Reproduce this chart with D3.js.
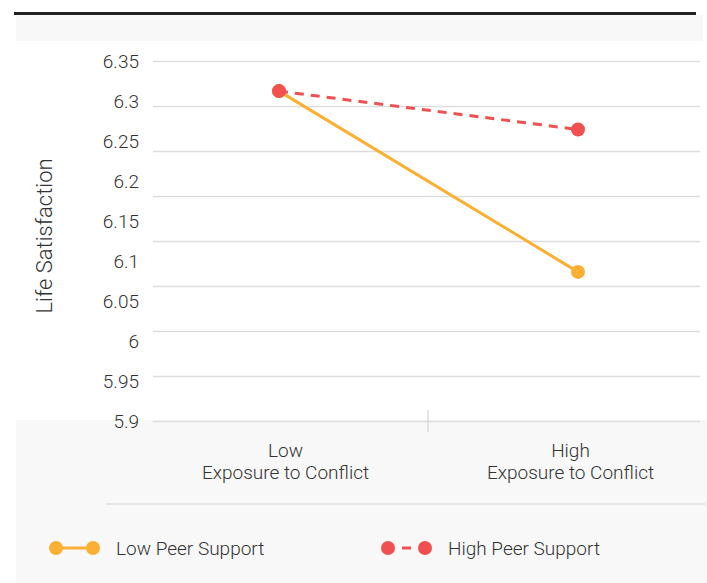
<!DOCTYPE html>
<html>
<head>
<meta charset="utf-8">
<script src="https://cdn.jsdelivr.net/npm/d3@7"></script>
<style>
  html, body { margin: 0; padding: 0; background: #ffffff; }
  svg { display: block; font-family: Roboto, "Liberation Sans", Arial, sans-serif; font-weight: 300; }
</style>
</head>
<body>
<div id="chart"></div>
<script>
// ---- data ----
const categories = ["Low", "High"];
const categorySubtitle = "Exposure to Conflict";
const lowPeerSupport = [6.313, 6.087];
const highPeerSupport = [6.313, 6.265];
const yTicks = [6.35, 6.3, 6.25, 6.2, 6.15, 6.1, 6.05, 6, 5.95, 5.9];
const yTickLabels = ["6.35", "6.3", "6.25", "6.2", "6.15", "6.1", "6.05", "6", "5.95", "5.9"];
const gridCount = 9;
const yTitle = "Life Satisfaction";
const seriesNames = ["Low Peer Support", "High Peer Support"];

const W = 707, H = 583;
const orange = "#fbb034";
const red = "#f05050";
const textColor = "#333333";

const svg = d3.select("#chart").append("svg").attr("width", W).attr("height", H);

// backgrounds
svg.append("rect").attr("x", 16).attr("y", 15).attr("width", 687).attr("height", 26).attr("fill", "#f8f8f8");
svg.append("rect").attr("x", 16).attr("y", 420).attr("width", 691).attr("height", 163).attr("fill", "#f8f8f8");
svg.append("rect").attr("x", 14).attr("y", 12).attr("width", 682).attr("height", 3).attr("fill", "#222222");

// scales
const y = d3.scaleLinear().domain([5.9, 6.35]).range([421.5, 61.5]);
const xBand = d3.scaleBand().domain(categories).range([143, 713]);
const xPoint = d3.scalePoint().domain(categories).range([279, 578]);

// gridlines (evenly spaced across the plot)
const gridVals = d3.range(gridCount).map(i => 5.9 + i * (6.35 - 5.9) / (gridCount - 1));
svg.append("g").selectAll("line").data(gridVals).join("line")
  .attr("x1", 153).attr("x2", 700)
  .attr("y1", d => y(d)).attr("y2", d => y(d))
  .attr("stroke", "#dddddd").attr("stroke-width", 1.5);

// y tick labels
svg.append("g").selectAll("text").data(yTicks).join("text")
  .attr("x", 139).attr("y", d => y(d) + 6)
  .attr("text-anchor", "end")
  .attr("font-size", 19).attr("fill", textColor)
  .text((d, i) => yTickLabels[i]);

// y title
svg.append("text")
  .attr("transform", "translate(52,236) rotate(-90)")
  .attr("text-anchor", "middle")
  .attr("font-size", 22).attr("fill", textColor)
  .text(yTitle);

// category separator tick
svg.append("line").attr("x1", xBand("High")).attr("x2", xBand("High"))
  .attr("y1", 410).attr("y2", 432).attr("stroke", "#cccccc").attr("stroke-width", 1);

// bottom rule
svg.append("line").attr("x1", 106).attr("x2", 705).attr("y1", 504).attr("y2", 504)
  .attr("stroke", "#d4d4d4").attr("stroke-width", 1.2);

// category labels
const catG = svg.append("g").selectAll("text").data(categories).join("text")
  .attr("text-anchor", "middle").attr("font-size", 19).attr("fill", textColor)
  .attr("x", d => xBand(d) + xBand.bandwidth() / 2).attr("y", 457);
catG.append("tspan").text(d => d);
catG.append("tspan").attr("x", d => xBand(d) + xBand.bandwidth() / 2).attr("dy", 22).text(categorySubtitle);

// lines
const line = d3.line().x((d, i) => xPoint(categories[i])).y(d => y(d));
svg.append("path").datum(lowPeerSupport).attr("d", line)
  .attr("fill", "none").attr("stroke", orange).attr("stroke-width", 3);
svg.append("g").selectAll("circle").data(lowPeerSupport).join("circle")
  .attr("cx", (d, i) => xPoint(categories[i])).attr("cy", d => y(d)).attr("r", 7).attr("fill", orange);

svg.append("path").datum(highPeerSupport).attr("d", line)
  .attr("fill", "none").attr("stroke", red).attr("stroke-width", 3).attr("stroke-dasharray", "9,7");
svg.append("g").selectAll("circle").data(highPeerSupport).join("circle")
  .attr("cx", (d, i) => xPoint(categories[i])).attr("cy", d => y(d)).attr("r", 7).attr("fill", red);

// legend
const legendItems = [
  { name: seriesNames[0], color: orange, dash: null, x: 56 },
  { name: seriesNames[1], color: red, dash: "0,14,9,14", x: 388 }
];
const ly = 548;
const lg = svg.append("g").selectAll("g").data(legendItems).join("g");
lg.append("line").attr("x1", d => d.x).attr("x2", d => d.x + 37).attr("y1", ly).attr("y2", ly)
  .attr("stroke", d => d.color).attr("stroke-width", 3)
  .attr("stroke-dasharray", d => d.dash);
lg.append("circle").attr("cx", d => d.x).attr("cy", ly).attr("r", 7).attr("fill", d => d.color);
lg.append("circle").attr("cx", d => d.x + 37).attr("cy", ly).attr("r", 7).attr("fill", d => d.color);
lg.append("text").attr("x", d => d.x + 60).attr("y", ly + 7)
  .attr("font-size", 19).attr("fill", textColor).text(d => d.name);
</script>
</body>
</html>
